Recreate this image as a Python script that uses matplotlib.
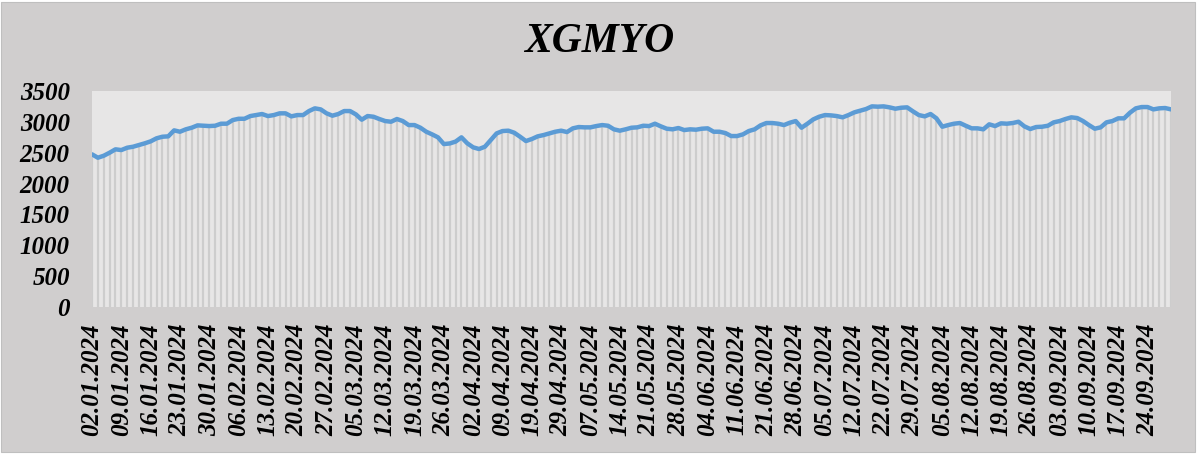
import matplotlib
matplotlib.use("Agg")
import matplotlib.pyplot as plt
import pandas as pd
from matplotlib.patches import Rectangle

title = "XGMYO"
holidays = ["2024-01-01", "2024-04-10", "2024-04-11", "2024-04-12", "2024-04-23",
            "2024-05-01", "2024-06-17", "2024-06-18", "2024-06-19", "2024-07-15",
            "2024-08-30"]
dates = pd.bdate_range("2024-01-02", "2024-09-30", freq="C", holidays=holidays)
date_labels = [d.strftime("%d.%m.%Y") for d in dates]

values = [
    2474, 2419, 2451, 2500, 2555, 2543, 2581, 2597, 2624, 2652,
    2684, 2733, 2759, 2765, 2862, 2840, 2879, 2905, 2943, 2937,
    2932, 2937, 2970, 2970, 3029, 3050, 3050, 3094, 3110, 3127,
    3094, 3110, 3138, 3138, 3089, 3110, 3110, 3175, 3219, 3202,
    3138, 3100, 3127, 3175, 3175, 3121, 3035, 3094, 3083, 3046,
    3013, 3002, 3046, 3013, 2948, 2948, 2905, 2840, 2797, 2749,
    2640, 2650, 2680, 2749, 2652, 2587, 2560, 2597, 2705, 2813,
    2851, 2857, 2824, 2759, 2689, 2722, 2765, 2786, 2813, 2840,
    2857, 2835, 2895, 2916, 2911, 2911, 2932, 2948, 2937, 2879,
    2857, 2879, 2905, 2911, 2937, 2932, 2970, 2927, 2889, 2879,
    2900, 2867, 2879, 2873, 2889, 2895, 2840, 2840, 2819, 2770,
    2770, 2797, 2851, 2879, 2943, 2981, 2981, 2970, 2948, 2986,
    3013, 2905, 2970, 3040, 3083, 3110, 3105, 3094, 3073, 3110,
    3154, 3181, 3208, 3251, 3246, 3251, 3235, 3213, 3229, 3235,
    3170, 3110, 3089, 3127, 3057, 2921, 2948, 2970, 2981, 2937,
    2895, 2895, 2879, 2960, 2932, 2976, 2970, 2981, 3002, 2927,
    2884, 2916, 2921, 2937, 2992, 3013, 3046, 3073, 3062, 3013,
    2948, 2889, 2911, 2992, 3013, 3057, 3057, 3148, 3219, 3240,
    3240, 3202, 3219, 3224, 3202,
]
yticks = [0, 500, 1000, 1500, 2000, 2500, 3000, 3500]

W, H = 1199, 459
fig = plt.figure(figsize=(W / 100, H / 100), dpi=100, facecolor="white")
fig.patches.append(Rectangle((1 / W, 1 - 452 / H), 1194 / W, 450 / H,
                             transform=fig.transFigure, facecolor="#d0cece",
                             edgecolor="#bfbfbf", linewidth=0.8, zorder=-10))
ax = fig.add_axes([92 / W, 1 - 307 / H, (1171 - 92) / W, (307 - 91) / H])
ax.set_facecolor("#e7e6e6")

n = len(values)
xs = list(range(n))
ax.vlines(xs, 0, values, colors="#cdcdcd", linewidth=1.6, zorder=1)
ax.plot(xs, values, color="#5b9bd5", linewidth=3.2, solid_capstyle="round",
        solid_joinstyle="round", zorder=3)

ax.set_xlim(0, n - 1)
ax.set_ylim(0, 3500)
ax.set_yticks(yticks)
ax.set_yticklabels([str(v) for v in yticks])
tick_pos = list(range(0, n, 5))
ax.set_xticks(tick_pos)
ax.set_xticklabels([date_labels[i] for i in tick_pos], rotation=90)
for s in ax.spines.values():
    s.set_visible(False)
ax.tick_params(axis="both", length=0)
ax.tick_params(axis="y", pad=16)
ax.tick_params(axis="x", pad=12)
for lab in ax.get_yticklabels() + ax.get_xticklabels():
    lab.set_fontfamily("Liberation Serif")
    lab.set_fontweight("bold")
    lab.set_fontstyle("italic")
    lab.set_fontsize(18)
    lab.set_color("black")

fig.text(0.5, 1 - 42 / H, title, ha="center", va="center",
         fontfamily="Liberation Serif", fontweight="bold", fontstyle="italic",
         fontsize=30, color="black")

fig.savefig("out.png", dpi=100, facecolor=fig.get_facecolor())
